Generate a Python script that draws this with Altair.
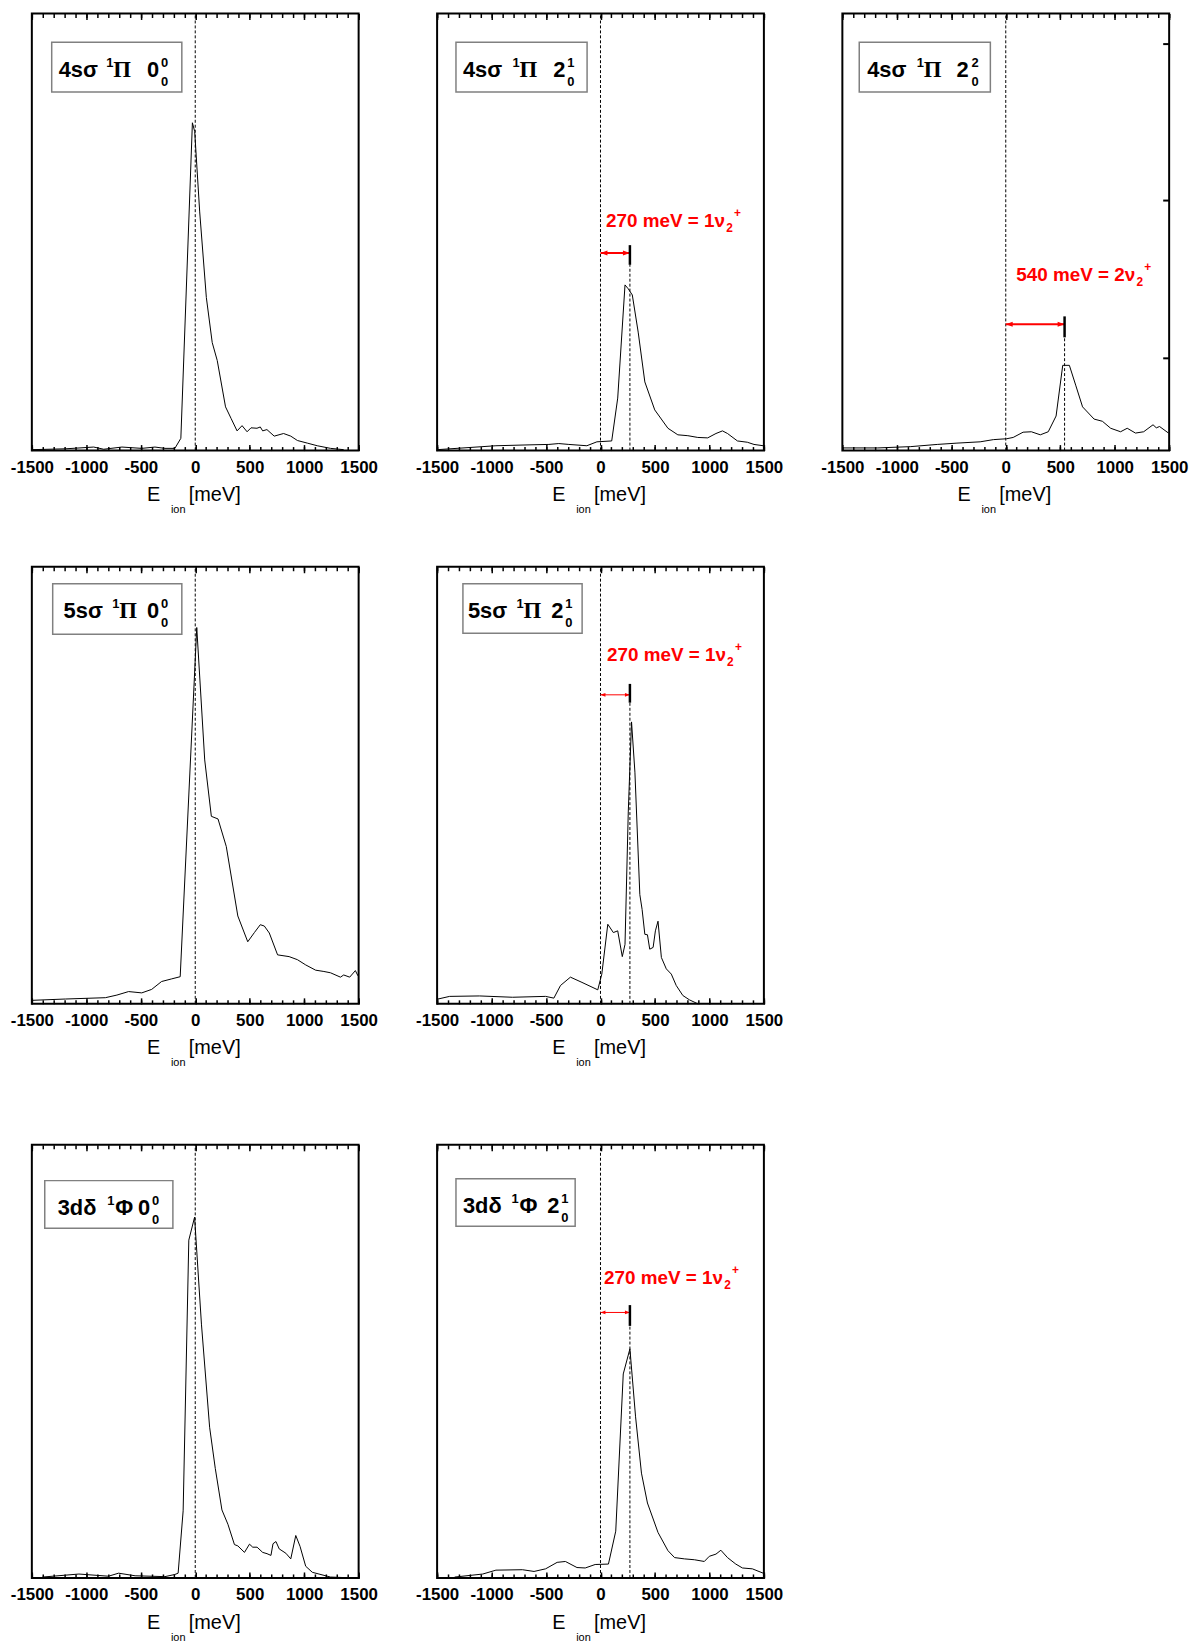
import altair as alt
import pandas as pd

SANS = "Liberation Sans"
SERIF = "Liberation Serif"

X_LABEL_VALUES = [-1500, -1000, -500, 0, 500, 1000, 1500]
X_MINOR_VALUES = list(range(-1500, 1501, 100))
RIGHT_TICK_VALUES = [0.211, 0.572, 0.930]

# ---- spectra (E_ion in meV, normalised intensity) ----
p1_x = [-1500, -1190, -932, -840, -673, -491, -370, -278, -187, -132, -26, -5, 41, 102, 156, 202, 278, 330,
        384, 430, 476, 512, 567, 597, 619, 658, 725, 811, 877, 938, 1029, 1120, 1242, 1363]
p1_y = [0.002, 0.004, 0.008, 0.003, 0.008, 0.005, 0.008, 0.005, 0.005, 0.028, 0.750, 0.730, 0.546, 0.350,
        0.247, 0.206, 0.100, 0.073, 0.045, 0.057, 0.043, 0.052, 0.051, 0.054, 0.045, 0.048, 0.033, 0.039,
        0.033, 0.023, 0.017, 0.011, 0.005, 0.002]

p2_x = [-1500, -960, -656, -474, -383, -291, -125, -33, 103, 158, 225, 255, 292, 346, 407, 498, 619, 710,
        802, 893, 984, 1060, 1120, 1166, 1257, 1348, 1409, 1494]
p2_y = [0.002, 0.011, 0.013, 0.014, 0.016, 0.014, 0.011, 0.020, 0.022, 0.120, 0.379, 0.370, 0.356, 0.271,
        0.157, 0.093, 0.051, 0.036, 0.034, 0.030, 0.029, 0.039, 0.045, 0.039, 0.022, 0.019, 0.014, 0.011]

p3_x = [-1494, -1175, -872, -629, -448, -235, -114, 8, 68, 159, 235, 317, 390, 462, 523, 584, 644, 705,
        811, 887, 963, 1054, 1115, 1191, 1266, 1352, 1382, 1412, 1494]
p3_y = [0.006, 0.006, 0.009, 0.014, 0.017, 0.020, 0.025, 0.027, 0.030, 0.042, 0.043, 0.036, 0.043, 0.079,
        0.195, 0.195, 0.148, 0.100, 0.072, 0.067, 0.051, 0.043, 0.051, 0.040, 0.043, 0.059, 0.052, 0.055,
        0.040]

p4_x = [-1494, -1190, -825, -719, -612, -491, -400, -309, -217, -138, 14, 87, 148, 209, 285, 391, 482,
        543, 597, 634, 680, 756, 862, 938, 1014, 1105, 1181, 1242, 1333, 1363, 1418, 1470, 1494]
p4_y = [0.008, 0.011, 0.014, 0.020, 0.028, 0.025, 0.033, 0.051, 0.057, 0.062, 0.861, 0.558, 0.429, 0.423,
        0.360, 0.201, 0.142, 0.163, 0.181, 0.178, 0.162, 0.112, 0.108, 0.101, 0.089, 0.077, 0.074, 0.071,
        0.061, 0.066, 0.061, 0.076, 0.064]

p5_x = [-1491, -1385, -1111, -808, -504, -428, -367, -276, -170, -25, 12, 67, 118, 158, 200, 225, 255,
        285, 316, 361, 382, 407, 431, 452, 483, 504, 528, 559, 604, 650, 695, 756, 817, 877, 892]
p5_y = [0.011, 0.017, 0.018, 0.015, 0.017, 0.013, 0.042, 0.061, 0.049, 0.032, 0.068, 0.182, 0.163, 0.167,
        0.108, 0.136, 0.439, 0.645, 0.530, 0.250, 0.216, 0.159, 0.158, 0.125, 0.129, 0.167, 0.189, 0.106,
        0.080, 0.068, 0.042, 0.019, 0.009, 0.002, 0.000]

p6_x = [-1403, -1068, -796, -704, -552, -278, -187, -157, -111, -59, -6, 57, 132, 184, 245, 300, 360, 391,
        452, 498, 528, 568, 619, 659, 695, 714, 741, 771, 832, 877, 923, 962, 1014, 1075, 1136, 1242, 1454]
p6_y = [0.002, 0.009, 0.004, 0.011, 0.005, 0.003, 0.008, 0.011, 0.155, 0.780, 0.833, 0.586, 0.348, 0.253,
        0.157, 0.124, 0.077, 0.074, 0.059, 0.078, 0.071, 0.071, 0.059, 0.056, 0.052, 0.079, 0.084, 0.067,
        0.057, 0.044, 0.098, 0.073, 0.027, 0.013, 0.009, 0.002, 0.000]

p7_x = [-1339, -1081, -960, -717, -610, -504, -398, -322, -216, -140, -49, 73, 140, 209, 270, 322, 376,
        431, 528, 619, 680, 771, 862, 953, 999, 1060, 1105, 1166, 1242, 1303, 1394, 1494]
p7_y = [0.002, 0.009, 0.018, 0.019, 0.015, 0.021, 0.036, 0.038, 0.024, 0.023, 0.031, 0.032, 0.108, 0.471,
        0.529, 0.372, 0.242, 0.173, 0.105, 0.063, 0.047, 0.044, 0.042, 0.038, 0.050, 0.055, 0.064, 0.047,
        0.032, 0.023, 0.021, 0.011]

# ---- annotations: vibrational shift (meV), arrow level, marker span, label anchor ----
SHIFTS = {"p2": 270, "p3": 540, "p5": 270, "p7": 270}
ARROW_Y = {"p2": 0.452, "p3": 0.289, "p5": 0.707, "p7": 0.613}
MARK_SPAN = {"p2": (0.425, 0.470), "p3": (0.259, 0.307), "p5": (0.689, 0.732), "p7": (0.582, 0.630)}
ANNOT_X = {"p2": 50, "p3": 96, "p5": 59, "p7": 32}
ANNOT_Y = {"p2": 0.511, "p3": 0.389, "p5": 0.784, "p7": 0.679}
ANNOT_TEXT = {"p2": "270 meV = 1ν", "p3": "540 meV = 2ν", "p5": "270 meV = 1ν", "p7": "270 meV = 1ν"}

W = 329
ONE = pd.DataFrame({"a": [0]})


def txt(text, x, y, size, font=SANS, weight="bold", color="black"):
    return alt.Chart(ONE).mark_text(
        text=text, align="left", baseline="alphabetic", font=font, fontSize=size,
        fontWeight=weight, color=color
    ).encode(x=alt.value(x), y=alt.value(y))


def panel(key, xv, yv, H, label, right_ticks=False):
    xs = alt.Scale(domain=[-1500, 1500], nice=False, zero=False)
    ys = alt.Scale(domain=[0, 1], nice=False, zero=False)
    df = pd.DataFrame({"E": xv, "I": yv})
    layers = []
    layers.append(
        alt.Chart(df).mark_line(color="black", strokeWidth=1).encode(
            x=alt.X("E:Q", scale=xs, axis=alt.Axis(
                orient="bottom", values=X_LABEL_VALUES, ticks=False, domain=False, grid=False,
                title=None, labelFont=SANS, labelFontSize=17, labelFontWeight="bold",
                labelColor="black", labelFlush=False, labelOverlap=False, labelPadding=9,
                labelExpr="'' + datum.value")),
            y=alt.Y("I:Q", scale=ys, axis=None),
        )
    )
    tick_df = pd.DataFrame({"E": X_MINOR_VALUES, "I": [0.0] * len(X_MINOR_VALUES)})
    for orient in ["top", "bottom"]:
        for vals, size in [(X_LABEL_VALUES, 6), (X_MINOR_VALUES, 4)]:
            layers.append(
                alt.Chart(tick_df).mark_point(opacity=0).encode(
                    x=alt.X("E:Q", scale=xs, axis=alt.Axis(
                        orient=orient, offset=-H, values=vals, labels=False, ticks=True,
                        tickSize=size, tickWidth=1.5, tickColor="black", domain=False,
                        grid=False, title=None)),
                    y=alt.Y("I:Q", scale=ys, axis=None),
                )
            )
    if right_ticks:
        layers.append(
            alt.Chart(pd.DataFrame({"I": RIGHT_TICK_VALUES})).mark_rule(
                color="black", strokeWidth=2
            ).encode(x=alt.value(W - 6), x2=alt.value(W),
                     y=alt.Y("I:Q", scale=ys, axis=None))
        )
    # dashed line at E = 0
    layers.append(
        alt.Chart(pd.DataFrame({"E": [0], "y0": [0.0], "y1": [1.0]})).mark_rule(
            strokeDash=[3, 2], color="black", strokeWidth=1
        ).encode(x=alt.X("E:Q", scale=xs, axis=None),
                 y=alt.Y("y0:Q", scale=ys, axis=None), y2="y1:Q")
    )
    if key in SHIFTS:
        s = SHIFTS[key]
        lo, hi = MARK_SPAN[key]
        thick = key in ("p2", "p3")
        layers.append(
            alt.Chart(pd.DataFrame({"E": [s], "y0": [0.0], "y1": [lo]})).mark_rule(
                strokeDash=[3, 2], color="black", strokeWidth=1
            ).encode(x=alt.X("E:Q", scale=xs, axis=None),
                     y=alt.Y("y0:Q", scale=ys, axis=None), y2="y1:Q")
        )
        layers.append(
            alt.Chart(pd.DataFrame({"E": [0], "E2": [s], "I": [ARROW_Y[key]]})).mark_rule(
                color="red", strokeWidth=2 if thick else 1
            ).encode(x=alt.X("E:Q", scale=xs, axis=None), x2="E2:Q",
                     y=alt.Y("I:Q", scale=ys, axis=None))
        )
        hsize = 49 if thick else 25
        for ex, shape in [(0, "M0,0 L2,-0.75 L2,0.75 Z"), (s, "M0,0 L-2,-0.75 L-2,0.75 Z")]:
            layers.append(
                alt.Chart(pd.DataFrame({"E": [ex], "I": [ARROW_Y[key]]})).mark_point(
                    shape=shape, filled=True, color="red", opacity=1, size=hsize, strokeWidth=0
                ).encode(x=alt.X("E:Q", scale=xs, axis=None), y=alt.Y("I:Q", scale=ys, axis=None))
            )
        layers.append(
            alt.Chart(pd.DataFrame({"E": [s], "y0": [lo], "y1": [hi]})).mark_rule(
                color="black", strokeWidth=2.5
            ).encode(x=alt.X("E:Q", scale=xs, axis=None),
                     y=alt.Y("y0:Q", scale=ys, axis=None), y2="y1:Q")
        )
        adf = pd.DataFrame({"E": [ANNOT_X[key]], "I": [ANNOT_Y[key]]})
        for t, size, dx, dy in [(ANNOT_TEXT[key], 19, 0, 0), ("2", 12, 121, 5), ("+", 12, 129, -10)]:
            layers.append(
                alt.Chart(adf).mark_text(
                    text=t, align="left", baseline="alphabetic", font=SANS, fontSize=size,
                    fontWeight="bold", color="red", dx=dx, dy=dy
                ).encode(x=alt.X("E:Q", scale=xs, axis=None), y=alt.Y("I:Q", scale=ys, axis=None))
            )
    # label box
    (bx0, by0, bx1, by1), parts = label
    layers.append(
        alt.Chart(ONE).mark_rect(fillOpacity=0, stroke="#808080", strokeWidth=1.5).encode(
            x=alt.value(bx0), x2=alt.value(bx1), y=alt.value(by0), y2=alt.value(by1))
    )
    for (t, x, kind) in parts:
        if kind == "main":
            layers.append(txt(t, x, by0 + 35, 22))
        elif kind == "serif":
            layers.append(txt(t, x, by0 + 35, 23, font=SERIF))
        elif kind == "sup":
            layers.append(txt(t, x, by0 + 25, 13))
        elif kind == "sub":
            layers.append(txt(t, x, by0 + 44, 13))
    # axis title  E_ion [meV]
    layers.append(txt("E", 116, H + 51, 20, weight="normal"))
    layers.append(txt("ion", 140, H + 63, 11, weight="normal"))
    layers.append(txt("[meV]", 158, H + 51, 20, weight="normal"))
    return alt.layer(*layers).resolve_axis(x="independent").properties(width=W, height=H)


lab1 = ((20, 29, 151, 79), [("4sσ", 27, "main"), ("1", 75, "sup"), ("Π", 82, "serif"),
                            ("0", 116, "main"), ("0", 130, "sup"), ("0", 130, "sub")])
lab2 = ((19, 29, 151, 79), [("4sσ", 26, "main"), ("1", 76, "sup"), ("Π", 83, "serif"),
                            ("2", 117, "main"), ("1", 131, "sup"), ("0", 131, "sub")])
lab3 = ((17, 29, 149, 79), [("4sσ", 25, "main"), ("1", 75, "sup"), ("Π", 82, "serif"),
                            ("2", 115, "main"), ("2", 130, "sup"), ("0", 130, "sub")])
lab4 = ((21, 17, 151, 68), [("5sσ", 32, "main"), ("1", 81, "sup"), ("Π", 88, "serif"),
                            ("0", 116, "main"), ("0", 130, "sup"), ("0", 130, "sub")])
lab5 = ((26, 17, 146, 67), [("5sσ", 31, "main"), ("1", 80, "sup"), ("Π", 87, "serif"),
                            ("2", 115, "main"), ("1", 129, "sup"), ("0", 129, "sub")])
lab6 = ((13, 36, 142, 84), [("3dδ", 26, "main"), ("1", 76, "sup"), ("Φ", 84, "main"),
                            ("0", 107, "main"), ("0", 121, "sup"), ("0", 121, "sub")])
lab7 = ((19, 34, 139, 82), [("3dδ", 26, "main"), ("1", 75, "sup"), ("Φ", 83, "main"),
                            ("2", 111, "main"), ("1", 125, "sup"), ("0", 125, "sub")])

H1 = 440
H2 = 440
H3 = 436
ROW_GAP_1 = 117
ROW_GAP_2 = 142

c1 = panel("p1", p1_x, p1_y, H1, lab1)
c2 = panel("p2", p2_x, p2_y, H1, lab2)
c3 = panel("p3", p3_x, p3_y, H1, lab3, right_ticks=True)
c4 = panel("p4", p4_x, p4_y, H2, lab4)
c5 = panel("p5", p5_x, p5_y, H2, lab5)
c6 = panel("p6", p6_x, p6_y, H3, lab6)
c7 = panel("p7", p7_x, p7_y, H3, lab7)

# empty cell in row 2, column 3: taller so that the larger gap before row 3 is kept
blank = alt.Chart(ONE).mark_point(opacity=0).encode(
    x=alt.value(0), y=alt.value(0)
).properties(width=W, height=H2 + ROW_GAP_2 - ROW_GAP_1, view=alt.ViewBackground(stroke="transparent"))

chart = alt.concat(
    c1, c2, c3, c4, c5, blank, c6, c7,
    columns=3, spacing={"row": ROW_GAP_1, "column": 79}, bounds="flush", align="each"
).properties(
    padding={"left": 1, "top": -2, "right": 3, "bottom": 0}
).configure_view(stroke="black", strokeWidth=2)

chart.save("out.html", embed_options={"renderer": "svg", "actions": False})
